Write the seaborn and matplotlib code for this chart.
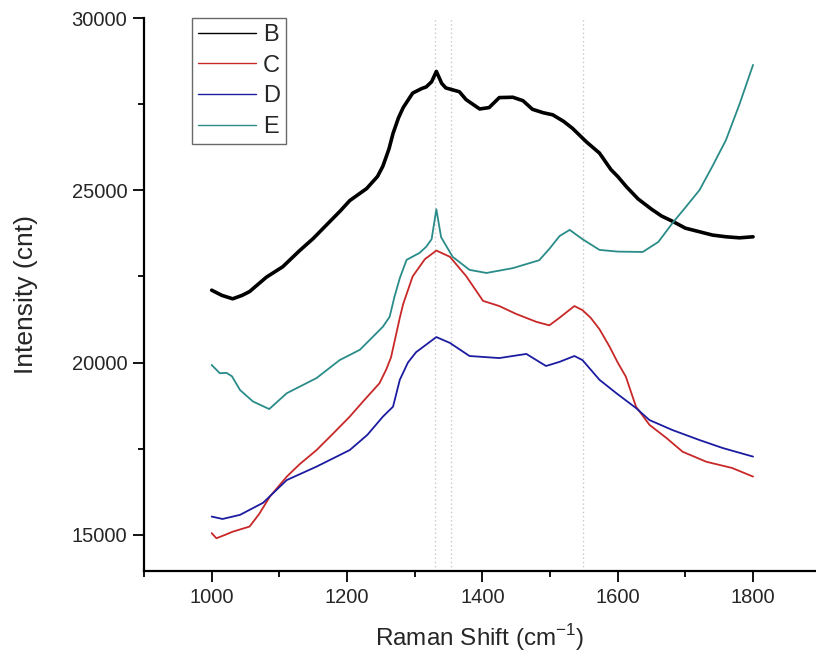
import numpy as np
import pandas as pd
import matplotlib
matplotlib.use("Agg")
import matplotlib.pyplot as plt
import seaborn as sns
from matplotlib.ticker import MultipleLocator
from matplotlib.lines import Line2D

# ---- data ----
b_x = [1000, 1015, 1031, 1045, 1056, 1081, 1105, 1130, 1150, 1170, 1190, 1204, 1229, 1245, 1253,
       1262, 1268, 1276, 1283, 1297, 1310, 1317, 1325, 1332, 1340, 1346, 1366, 1376, 1396, 1410,
       1425, 1445, 1460, 1474, 1490, 1504, 1520, 1533, 1554, 1573, 1590, 1600, 1613, 1630, 1650,
       1665, 1681, 1700, 1720, 1740, 1760, 1780, 1800]
b_y = [22100, 21950, 21850, 21950, 22060, 22480, 22780, 23250, 23600, 24000, 24400, 24700, 25050, 25400, 25700,
       26200, 26650, 27100, 27400, 27820, 27950, 28000, 28150, 28450, 28100, 27970, 27860, 27630, 27360, 27400,
       27690, 27700, 27600, 27350, 27250, 27190, 27000, 26800, 26400, 26080, 25600, 25400, 25100, 24750, 24450,
       24250, 24100, 23900, 23800, 23700, 23650, 23620, 23650]

c_x = [1000, 1007, 1020, 1031, 1056, 1070, 1086, 1111, 1130, 1155, 1180, 1204, 1225, 1248, 1258,
       1265, 1278, 1283, 1297, 1315, 1332, 1352, 1376, 1401, 1425, 1450, 1480, 1499, 1514, 1536,
       1548, 1560, 1573, 1588, 1600, 1612, 1627, 1647, 1672, 1696, 1731, 1769, 1800]
c_y = [15050, 14900, 15000, 15090, 15240, 15600, 16110, 16690, 17050, 17460, 17950, 18430, 18900, 19400, 19800,
       20150, 21300, 21700, 22500, 23000, 23250, 23070, 22510, 21790, 21640, 21410, 21180, 21080, 21300, 21640,
       21520, 21300, 20970, 20460, 20000, 19590, 18720, 18190, 17810, 17410, 17120, 16940, 16690]

d_x = [1000, 1016, 1042, 1076, 1111, 1155, 1204, 1230, 1253, 1268, 1278, 1290, 1302, 1332, 1352,
       1381, 1425, 1465, 1494, 1514, 1536, 1548, 1573, 1598, 1627, 1647, 1681, 1721, 1755, 1800]
d_y = [15530, 15460, 15580, 15930, 16590, 16980, 17460, 17900, 18430, 18720, 19500, 20000, 20300, 20740, 20570,
       20190, 20130, 20250, 19900, 20020, 20190, 20070, 19500, 19110, 18680, 18330, 18040, 17750, 17520, 17270]

e_x = [1000, 1012, 1022, 1030, 1042, 1061, 1085, 1111, 1155, 1189, 1219, 1253, 1263, 1270, 1278,
       1288, 1307, 1317, 1325, 1332, 1339, 1356, 1381, 1406, 1445, 1484, 1499, 1514, 1529, 1548,
       1573, 1600, 1637, 1660, 1681, 1700, 1721, 1740, 1760, 1780, 1800]
e_y = [19930, 19690, 19700, 19600, 19200, 18870, 18650, 19110, 19550, 20070, 20370, 21040, 21330, 21900, 22450,
       22980, 23180, 23360, 23580, 24450, 23640, 23070, 22690, 22600, 22740, 22970, 23300, 23670, 23850, 23580,
       23270, 23220, 23210, 23500, 24050, 24500, 25010, 25700, 26460, 27500, 28640]

series_names = ["B", "C", "D", "E"]
series_colors = ["#000000", "#c82828", "#1c1ca0", "#2a8c88"]
ref_lines = [1330, 1353, 1548]

frames = []
for name, xs, ys in zip(series_names, [b_x, c_x, d_x, e_x], [b_y, c_y, d_y, e_y]):
    frames.append(pd.DataFrame({"shift": xs, "intensity": ys, "sample": name}))
df = pd.concat(frames, ignore_index=True)

sns.set_style("ticks")
plt.rcParams["font.family"] = ["Liberation Sans", "DejaVu Sans"]
plt.rcParams["mathtext.fontset"] = "custom"
plt.rcParams["mathtext.rm"] = "Liberation Sans"

fig = plt.figure(figsize=(8.16, 6.58), dpi=100)
ax = fig.add_axes([144 / 816, 1 - 571 / 658, 1 - 144 / 816, (571 - 18) / 658])

for xv in ref_lines:
    ax.axvline(xv, color="#c8c8c8", lw=1.0, ls=(0, (1, 2)), zorder=0)

sns.lineplot(data=df, x="shift", y="intensity", hue="sample", palette=dict(zip(series_names, series_colors)),
             ax=ax, sort=False, estimator=None, linewidth=1.3, legend=False)
# thicker black band for the noisy B spectrum
ax.get_lines()[len(ref_lines)].set_linewidth(2.6)

ax.set_xlim(900, 1893)
ax.set_ylim(13950, 30000)
ax.xaxis.set_major_locator(MultipleLocator(200))
ax.xaxis.set_minor_locator(MultipleLocator(100))
ax.yaxis.set_major_locator(MultipleLocator(5000))
ax.yaxis.set_minor_locator(MultipleLocator(2500))
ax.tick_params(axis="both", which="major", direction="out", length=8, width=1.3, labelsize=14.5,
               color="black", pad=4)
ax.tick_params(axis="both", which="minor", direction="out", length=4.5, width=1.3, color="black")
for s in ["top", "right"]:
    ax.spines[s].set_visible(False)
for s in ["left", "bottom"]:
    ax.spines[s].set_linewidth(1.6)
    ax.spines[s].set_color("black")

ax.set_xlabel("Raman Shift (cm$^{-1}$)", fontsize=17.5, labelpad=11)
ax.set_ylabel("Intensity (cnt)", fontsize=19, labelpad=24)

handles = [Line2D([0], [0], color=c, lw=1.0) for c in series_colors]
leg = ax.legend(handles, series_names, loc="upper left", bbox_to_anchor=(0.072, 1.0), fontsize=17,
                frameon=True, fancybox=False, edgecolor="#444444", handlelength=2.45, handletextpad=0.28,
                labelspacing=0.37, borderpad=0.25, borderaxespad=0.0)
leg.get_frame().set_linewidth(1.0)

fig.savefig("out.png", dpi=100)
